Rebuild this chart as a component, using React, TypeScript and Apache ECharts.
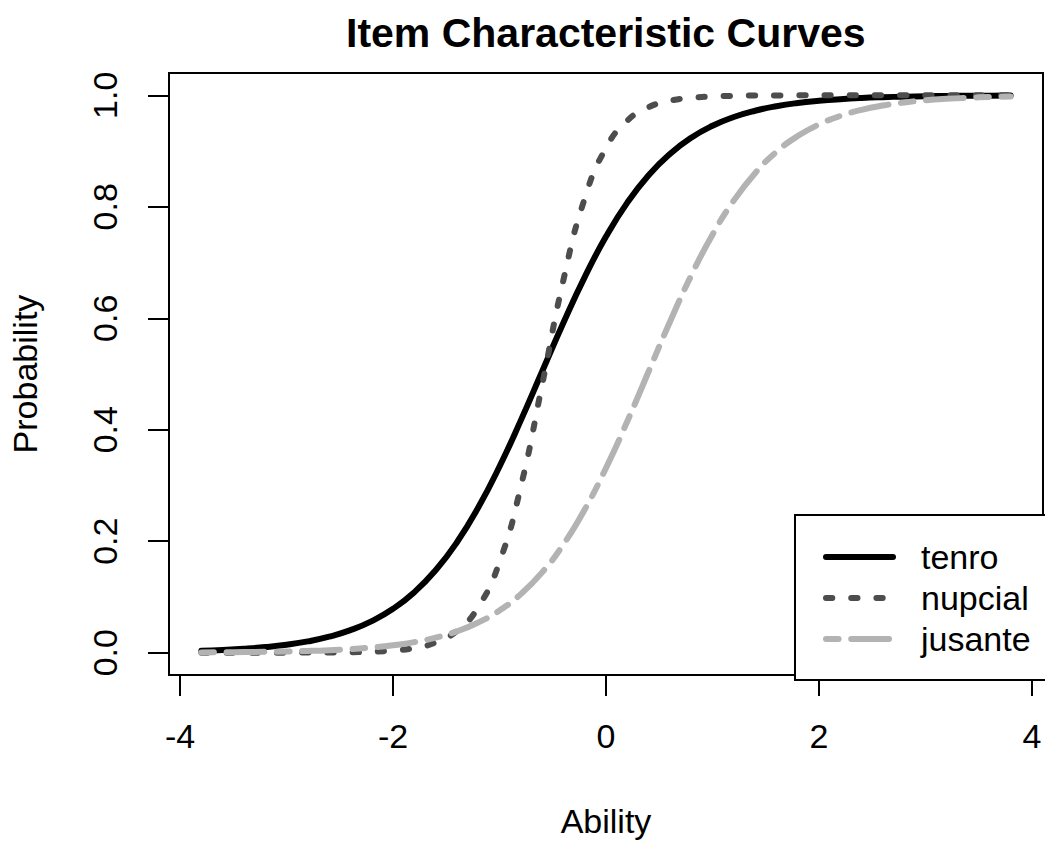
import React, { useEffect, useRef } from "react";
import * as echarts from "echarts";

// Ability grid (x values of the plotted curves)
const abilities = [
  -3.8, -3.6, -3.4, -3.2, -3.0, -2.8, -2.6, -2.4, -2.2, -2.0,
  -1.8, -1.6, -1.4, -1.2, -1.0, -0.8, -0.6, -0.4, -0.2, 0.0,
  0.2, 0.4, 0.6, 0.8, 1.0, 1.2, 1.4, 1.6, 1.8, 2.0,
  2.2, 2.4, 2.6, 2.8, 3.0, 3.2, 3.4, 3.6, 3.8,
];

// Probabilities
const tenro = [
  0.0035, 0.0050, 0.0071, 0.0101, 0.0143, 0.0203, 0.0287, 0.0404, 0.0566, 0.0787,
  0.1085, 0.1478, 0.1981, 0.2604, 0.3340, 0.4168, 0.5045, 0.5920, 0.6739, 0.7465,
  0.8075, 0.8567, 0.8949, 0.9239, 0.9453, 0.9610, 0.9723, 0.9804, 0.9862, 0.9902,
  0.9931, 0.9952, 0.9966, 0.9976, 0.9983, 0.9988, 0.9992, 0.9994, 0.9996,
];
const nupcial = [
  0.0000, 0.0000, 0.0000, 0.0000, 0.0001, 0.0002, 0.0004, 0.0008, 0.0018, 0.0039,
  0.0085, 0.0184, 0.0392, 0.0818, 0.1627, 0.2978, 0.4805, 0.6686, 0.8149, 0.9056,
  0.9544, 0.9786, 0.9901, 0.9954, 0.9979, 0.9990, 0.9996, 0.9998, 0.9999, 1.0000,
  1.0000, 1.0000, 1.0000, 1.0000, 1.0000, 1.0000, 1.0000, 1.0000, 1.0000,
];
const jusante = [
  0.0005, 0.0008, 0.0011, 0.0016, 0.0022, 0.0032, 0.0046, 0.0065, 0.0094, 0.0134,
  0.0190, 0.0271, 0.0383, 0.0541, 0.0757, 0.1051, 0.1441, 0.1943, 0.2569, 0.3314,
  0.4151, 0.5045, 0.5934, 0.6766, 0.7499, 0.8112, 0.8603, 0.8983, 0.9268, 0.9477,
  0.9630, 0.9739, 0.9816, 0.9871, 0.9910, 0.9937, 0.9956, 0.9969, 0.9978,
];

const seriesNames = ["tenro", "nupcial", "jusante"];
const xTicks = [-4, -2, 0, 2, 4];
const yTicks = [0, 0.2, 0.4, 0.6, 0.8, 1.0];

const FONT = "'Liberation Sans', Arial, Helvetica, sans-serif";

export default function App() {
  const ref = useRef<HTMLDivElement>(null);

  useEffect(() => {
    if (!ref.current) return;
    const chart = echarts.init(ref.current, undefined, { renderer: "svg" });

    const U = 6.3;
    const styles: any[] = [
      { color: "#000000", type: "solid" },
      { color: "#4d4d4d", type: [U, 3 * U] },
      { color: "#b3b3b3", type: [2 * U, 2 * U, 6 * U, 2 * U] },
    ];
    const values = [tenro, nupcial, jusante];

    const option: any = {
      animation: false,
      backgroundColor: "#ffffff",
      title: {
        text: "Item Characteristic Curves",
        left: 346,
        top: 12,
        padding: 0,
        textStyle: {
          fontFamily: FONT,
          fontSize: 41,
          fontWeight: "bold",
          color: "#000",
        },
      },
      grid: {
        left: 169,
        top: 73,
        width: 874,
        height: 606.5,
        show: true,
        borderColor: "#000",
        borderWidth: 2,
        backgroundColor: "transparent",
        containLabel: false,
      },
      xAxis: {
        type: "value",
        min: -4.104,
        max: 4.104,
        name: "Ability",
        nameLocation: "middle",
        nameGap: 129,
        nameTextStyle: { fontFamily: FONT, fontSize: 34, color: "#000" },
        axisLine: { show: true, onZero: false, lineStyle: { color: "#000", width: 2 } },
        axisTick: {
          show: true,
          customValues: xTicks,
          length: 21,
          lineStyle: { color: "#000", width: 2 },
        },
        axisLabel: {
          customValues: xTicks,
          margin: 44,
          fontFamily: FONT,
          fontSize: 34,
          color: "#000",
          formatter: (v: number) => String(v),
        },
        splitLine: { show: false },
      },
      yAxis: {
        type: "value",
        min: -0.04,
        max: 1.04,
        name: "Probability",
        nameLocation: "middle",
        nameGap: 127,
        nameTextStyle: { fontFamily: FONT, fontSize: 34, color: "#000" },
        axisLine: { show: true, onZero: false, lineStyle: { color: "#000", width: 2 } },
        axisTick: {
          show: true,
          customValues: yTicks,
          length: 21,
          lineStyle: { color: "#000", width: 2 },
        },
        axisLabel: {
          customValues: yTicks,
          rotate: 90,
          margin: 47,
          fontFamily: FONT,
          fontSize: 34,
          color: "#000",
          formatter: (v: number) => v.toFixed(1),
        },
        splitLine: { show: false },
      },
      legend: {
        data: seriesNames.map((name, k) => ({
          name,
          itemStyle: { opacity: 0 },
          lineStyle: {
            color: styles[k].color,
            width: 6,
            type: styles[k].type,
            cap: "round",
          },
        })),
        orient: "vertical",
        left: 795,
        top: 515,
        padding: [25, 17, 24, 28],
        itemWidth: 67,
        itemHeight: 14,
        itemGap: 7,
        borderColor: "#000",
        borderWidth: 2,
        borderRadius: 0,
        backgroundColor: "#ffffff",
        itemStyle: { opacity: 0 },
        textStyle: {
          fontFamily: FONT,
          fontSize: 34,
          lineHeight: 34,
          color: "#000",
          padding: [0, 0, 0, 23],
        },
      },
      series: seriesNames.map((name, k) => ({
        name,
        type: "line",
        data: abilities.map((x, i) => [x, values[k][i]]),
        showSymbol: false,
        symbol: "none",
        smooth: true,
        lineStyle: {
          color: styles[k].color,
          width: 6,
          type: styles[k].type,
          cap: "round",
          join: "round",
        },
        itemStyle: { color: styles[k].color },
        z: 2 + k,
      })),
    };

    chart.setOption(option);
    return () => chart.dispose();
  }, []);

  return (
    <div
      ref={ref}
      style={{
        position: "absolute",
        left: 0,
        top: 0,
        width: 1045,
        height: 843,
        background: "#fff",
      }}
    />
  );
}
